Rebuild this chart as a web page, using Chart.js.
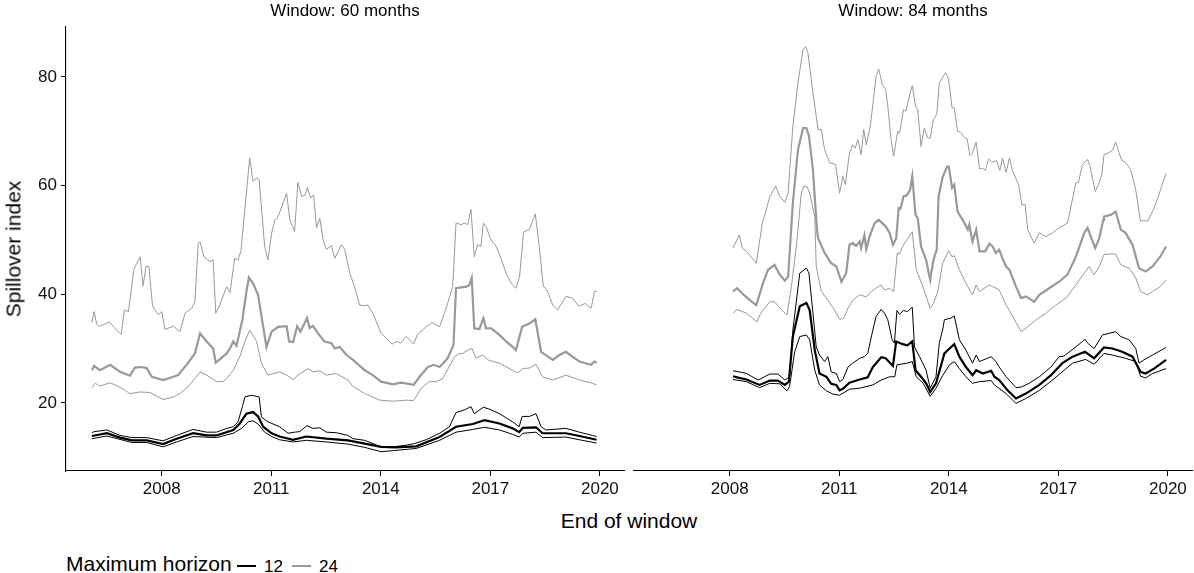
<!DOCTYPE html>
<html>
<head>
<meta charset="utf-8">
<title>Spillover index</title>
<script src="https://cdn.jsdelivr.net/npm/chart.js@4.4.1/dist/chart.umd.min.js"></script>
<style>
  body { margin: 0; background: #fff; font-family: "Liberation Sans", Arial, sans-serif; }
  #page { position: relative; width: 1194px; height: 573px; overflow: hidden; background: #fff; }
  #page canvas { position: absolute; top: 0; }
  .txt { position: absolute; white-space: nowrap; color: #000; line-height: 1; }
  .mid { transform: translate(-50%, -50%); }
  .key { position: absolute; height: 1.5px; width: 19px; }
</style>
</head>
<body>
<div id="page">
  <canvas id="panel60" width="628" height="505" style="left:0"></canvas>
  <canvas id="panel84" width="566" height="505" style="left:628px"></canvas>

  <div class="txt mid" style="left:345px; top:10px; font-size:17px;">Window: 60 months</div>
  <div class="txt mid" style="left:913px; top:10px; font-size:17px;">Window: 84 months</div>
  <div class="txt mid" style="left:13px; top:249px; font-size:21px; transform: translate(-50%, -50%) rotate(-90deg);">Spillover index</div>
  <div class="txt mid" style="left:629px; top:520px; font-size:21px;">End of window</div>

  <div class="txt" style="left:66px; top:553px; font-size:21px;">Maximum horizon</div>
  <div class="key" style="left:237px; top:565px; background:#000;"></div>
  <div class="txt" id="lab12" style="left:264px; top:558px; font-size:17px;"></div>
  <div class="key" style="left:292px; top:565px; background:#999;"></div>
  <div class="txt" id="lab24" style="left:319px; top:558px; font-size:17px;"></div>
</div>

<script>
// axis setup
const tickYears = [2008, 2011, 2014, 2017, 2020];
const tickIndex = [20, 40, 60, 80];
const xRange = [2005.38, 2020.66];
const yRange = [7.45, 89.2];
const horizons = ['12', '24'];

// 60-month window, horizon 24: upper / median / lower  [year, index]
const w60h24Upper = [[2006.09,34.8],[2006.15,36.8],[2006.22,34.5],[2006.31,34.1],[2006.57,34.9],[2006.68,34.0],[2006.89,32.6],[2006.98,37.1],[2007.09,36.8],[2007.24,44.6],[2007.41,46.9],[2007.49,41.5],[2007.57,45.1],[2007.65,45.1],[2007.75,37.8],[2007.91,36.2],[2008.00,36.8],[2008.09,33.5],[2008.32,34.1],[2008.50,33.1],[2008.64,36.5],[2008.82,37.4],[2008.91,38.6],[2009.00,49.4],[2009.05,49.7],[2009.16,46.9],[2009.32,46.0],[2009.41,46.3],[2009.48,36.5],[2009.59,38.0],[2009.78,41.4],[2009.87,40.3],[2010.00,46.6],[2010.09,46.3],[2010.17,47.9],[2010.41,65.1],[2010.50,60.8],[2010.60,61.4],[2010.67,61.1],[2010.82,48.8],[2010.91,46.3],[2011.01,51.2],[2011.10,53.7],[2011.19,54.3],[2011.42,58.6],[2011.51,53.7],[2011.64,51.5],[2011.73,60.6],[2011.83,58.0],[2011.92,58.2],[2011.99,59.6],[2012.08,57.7],[2012.16,58.3],[2012.24,52.2],[2012.33,54.0],[2012.42,50.0],[2012.51,48.3],[2012.65,48.9],[2012.74,46.6],[2012.92,49.1],[2013.01,48.3],[2013.15,43.9],[2013.28,41.4],[2013.42,38.0],[2013.56,37.9],[2013.65,38.0],[2013.78,36.5],[2014.01,32.8],[2014.10,32.2],[2014.31,30.8],[2014.42,31.3],[2014.55,31.0],[2014.70,32.2],[2014.90,30.8],[2015.00,32.5],[2015.24,34.0],[2015.41,34.8],[2015.61,34.0],[2015.79,37.4],[2015.97,41.4],[2016.06,53.1],[2016.20,52.8],[2016.29,53.1],[2016.38,52.8],[2016.47,55.6],[2016.56,46.9],[2016.65,49.1],[2016.74,48.8],[2016.81,53.1],[2016.88,52.5],[2017.02,50.0],[2017.16,48.8],[2017.29,46.6],[2017.43,43.9],[2017.57,42.0],[2017.70,41.1],[2017.80,43.2],[2017.91,51.5],[2018.07,51.9],[2018.23,54.8],[2018.34,48.8],[2018.45,41.5],[2018.55,40.8],[2018.71,38.0],[2018.84,37.1],[2019.07,39.6],[2019.25,39.3],[2019.42,37.8],[2019.60,38.3],[2019.76,37.4],[2019.85,40.5],[2019.91,40.5]];
const w60h24Median = [[2006.09,26.0],[2006.15,26.8],[2006.31,26.0],[2006.59,27.0],[2006.86,25.7],[2007.13,25.0],[2007.27,26.5],[2007.45,26.6],[2007.59,26.4],[2007.73,24.8],[2008.04,24.2],[2008.32,24.8],[2008.45,25.1],[2008.68,27.0],[2008.91,29.1],[2009.05,32.8],[2009.16,31.9],[2009.27,31.0],[2009.41,30.0],[2009.48,27.4],[2009.59,28.0],[2009.78,29.1],[2009.87,30.0],[2009.96,31.3],[2010.05,30.5],[2010.21,35.3],[2010.32,40.5],[2010.39,43.1],[2010.50,42.0],[2010.64,39.9],[2010.78,34.0],[2010.87,30.3],[2011.01,33.1],[2011.19,34.0],[2011.42,34.1],[2011.49,31.3],[2011.60,31.2],[2011.71,34.1],[2011.80,33.1],[2011.98,35.6],[2012.05,33.8],[2012.14,34.2],[2012.28,32.8],[2012.46,31.3],[2012.65,31.0],[2012.74,30.0],[2012.87,30.3],[2013.06,28.8],[2013.24,27.9],[2013.56,26.0],[2013.78,25.1],[2014.01,23.9],[2014.33,23.4],[2014.56,23.7],[2014.90,23.3],[2015.06,24.8],[2015.29,26.6],[2015.45,27.0],[2015.61,26.6],[2015.83,28.2],[2015.99,30.6],[2016.06,41.1],[2016.34,41.4],[2016.42,41.6],[2016.49,43.0],[2016.56,33.7],[2016.70,33.6],[2016.81,35.6],[2016.88,33.7],[2017.02,33.7],[2017.25,32.5],[2017.43,31.3],[2017.61,30.3],[2017.70,29.7],[2017.87,34.0],[2018.07,34.6],[2018.23,35.4],[2018.39,29.4],[2018.52,28.8],[2018.71,27.9],[2018.89,28.8],[2019.07,29.4],[2019.25,28.5],[2019.44,27.6],[2019.60,27.3],[2019.76,27.0],[2019.85,27.6],[2019.91,27.4]];
const w60h24Lower = [[2006.09,22.8],[2006.18,23.6],[2006.31,23.1],[2006.59,23.7],[2006.91,22.7],[2007.13,21.7],[2007.41,22.0],[2007.68,21.9],[2008.04,20.6],[2008.32,21.1],[2008.50,21.7],[2008.77,23.3],[2009.05,25.7],[2009.23,25.1],[2009.50,23.9],[2009.68,23.9],[2009.78,24.5],[2009.96,26.0],[2010.14,28.5],[2010.28,31.3],[2010.41,33.4],[2010.60,31.3],[2010.73,27.3],[2010.91,25.1],[2011.23,25.7],[2011.42,25.1],[2011.60,24.3],[2011.73,25.1],[2012.01,26.3],[2012.15,25.7],[2012.33,25.9],[2012.51,25.1],[2012.78,25.4],[2013.10,24.2],[2013.24,23.0],[2013.56,21.7],[2013.97,20.5],[2014.33,20.3],[2014.70,20.5],[2014.90,20.4],[2015.11,22.7],[2015.33,23.9],[2015.52,23.9],[2015.70,24.5],[2016.02,28.5],[2016.15,29.1],[2016.25,29.1],[2016.38,29.7],[2016.50,30.0],[2016.61,28.2],[2016.79,28.8],[2016.93,27.9],[2017.25,27.3],[2017.61,26.0],[2017.75,25.5],[2017.89,26.3],[2018.07,26.4],[2018.25,27.1],[2018.43,24.8],[2018.71,24.2],[2019.07,25.1],[2019.44,24.2],[2019.80,23.6],[2019.91,23.3]];

// 60-month window, horizon 12
const w60h12Upper = [[2006.09,14.5],[2006.15,14.7],[2006.50,15.0],[2006.86,14.0],[2007.18,13.6],[2007.59,13.6],[2008.04,13.0],[2008.41,14.0],[2008.86,15.1],[2009.23,14.6],[2009.50,14.6],[2009.78,15.3],[2009.96,15.6],[2010.09,16.5],[2010.21,19.3],[2010.28,21.1],[2010.46,21.4],[2010.67,21.1],[2010.73,17.4],[2010.91,16.5],[2011.23,15.6],[2011.46,14.4],[2011.64,14.6],[2011.78,14.7],[2011.98,15.8],[2012.14,15.3],[2012.33,15.4],[2012.51,14.6],[2012.78,14.5],[2013.10,14.0],[2013.24,13.4],[2013.56,13.1],[2014.01,11.9],[2014.33,11.9],[2014.70,12.2],[2014.92,12.5],[2015.24,13.2],[2015.61,14.4],[2015.88,15.6],[2016.06,18.2],[2016.29,18.7],[2016.47,19.3],[2016.56,18.0],[2016.81,19.2],[2016.99,18.8],[2017.25,18.0],[2017.61,16.5],[2017.79,15.6],[2017.87,17.5],[2018.07,17.5],[2018.25,18.0],[2018.39,15.6],[2018.52,15.0],[2019.07,15.3],[2019.44,14.6],[2019.80,14.0],[2019.91,13.8]];
const w60h12Median = [[2006.09,13.9],[2006.50,14.4],[2006.86,13.6],[2007.18,13.1],[2007.59,13.1],[2008.04,12.4],[2008.41,13.4],[2008.86,14.4],[2009.23,14.0],[2009.50,14.0],[2009.96,15.0],[2010.14,16.2],[2010.32,18.0],[2010.50,18.3],[2010.64,17.5],[2010.78,15.6],[2011.01,14.4],[2011.23,13.8],[2011.60,13.2],[2011.96,13.8],[2012.51,13.4],[2013.10,13.1],[2013.56,12.5],[2014.01,11.9],[2014.40,11.8],[2014.97,12.0],[2015.61,13.7],[2016.06,15.6],[2016.52,16.1],[2016.84,16.8],[2017.25,16.2],[2017.61,15.3],[2017.79,14.6],[2017.89,15.4],[2018.25,15.5],[2018.43,14.4],[2019.07,14.4],[2019.44,13.9],[2019.91,13.2]];
const w60h12Lower = [[2006.09,13.4],[2006.50,13.9],[2007.18,12.7],[2007.59,12.7],[2008.04,11.9],[2008.41,12.8],[2008.86,13.8],[2009.50,13.6],[2009.96,14.4],[2010.19,15.3],[2010.37,16.5],[2010.50,16.7],[2010.64,16.1],[2010.82,14.6],[2011.01,13.8],[2011.23,13.2],[2011.60,12.8],[2011.96,13.1],[2012.51,12.8],[2013.10,12.4],[2013.56,11.8],[2014.01,11.0],[2014.33,11.2],[2014.97,11.6],[2015.61,13.1],[2016.06,14.6],[2016.52,15.1],[2016.84,15.5],[2017.25,15.0],[2017.61,14.2],[2017.79,13.7],[2017.89,14.4],[2018.25,14.6],[2018.43,13.6],[2019.07,13.7],[2019.44,13.2],[2019.91,12.6]];

// 84-month window, horizon 24
const w84h24Upper = [[2008.09,48.5],[2008.26,50.9],[2008.35,48.5],[2008.46,47.9],[2008.73,45.7],[2008.90,53.4],[2008.95,54.3],[2009.10,58.0],[2009.26,59.9],[2009.37,58.0],[2009.51,56.9],[2009.60,58.6],[2009.73,70.9],[2009.87,78.9],[2010.01,85.1],[2010.08,85.6],[2010.14,84.5],[2010.28,77.1],[2010.42,70.3],[2010.51,70.3],[2010.60,66.6],[2010.74,64.2],[2010.90,63.9],[2011.01,58.6],[2011.10,61.7],[2011.17,60.2],[2011.28,66.0],[2011.37,67.5],[2011.44,66.9],[2011.51,68.5],[2011.60,65.7],[2011.67,70.3],[2011.74,67.5],[2011.85,70.9],[2012.01,80.1],[2012.08,81.5],[2012.18,78.6],[2012.27,77.7],[2012.33,74.6],[2012.42,68.5],[2012.49,65.4],[2012.60,70.0],[2012.65,69.6],[2012.76,74.0],[2012.83,73.7],[2012.94,77.1],[2013.00,78.4],[2013.09,74.6],[2013.15,74.0],[2013.24,67.2],[2013.33,70.6],[2013.42,68.8],[2013.49,68.7],[2013.58,72.2],[2013.67,73.1],[2013.74,78.9],[2013.91,80.8],[2013.97,80.1],[2014.02,78.3],[2014.09,74.3],[2014.15,74.3],[2014.24,70.0],[2014.33,69.8],[2014.43,68.8],[2014.50,68.7],[2014.58,65.5],[2014.65,66.0],[2014.75,68.0],[2014.84,63.1],[2014.93,63.2],[2015.00,62.8],[2015.09,64.9],[2015.18,64.3],[2015.31,64.6],[2015.40,62.8],[2015.47,65.1],[2015.57,62.4],[2015.66,65.1],[2015.75,62.6],[2015.91,60.2],[2016.00,56.5],[2016.09,56.5],[2016.16,51.9],[2016.34,49.4],[2016.48,51.3],[2016.66,50.6],[2016.84,51.3],[2017.02,52.2],[2017.25,53.1],[2017.48,60.5],[2017.55,60.6],[2017.66,63.9],[2017.80,64.8],[2017.87,63.5],[2018.01,58.9],[2018.10,60.2],[2018.19,62.0],[2018.25,65.7],[2018.39,66.1],[2018.48,66.5],[2018.57,68.0],[2018.66,66.1],[2018.74,64.6],[2018.84,64.3],[2018.98,62.9],[2019.12,59.2],[2019.25,53.4],[2019.34,53.6],[2019.44,53.4],[2019.58,55.2],[2019.71,57.4],[2019.83,59.9],[2019.95,62.3]];
const w84h24Median = [[2008.09,40.5],[2008.20,41.1],[2008.35,40.1],[2008.55,38.9],[2008.73,38.0],[2008.91,42.0],[2009.05,44.5],[2009.23,45.4],[2009.37,43.6],[2009.51,42.5],[2009.60,43.2],[2009.73,56.8],[2009.87,66.6],[2010.01,70.6],[2010.10,70.6],[2010.17,69.2],[2010.28,62.9],[2010.39,51.9],[2010.42,50.3],[2010.60,47.6],[2010.78,45.7],[2010.92,45.1],[2011.06,42.3],[2011.12,43.0],[2011.19,43.9],[2011.28,49.1],[2011.37,49.4],[2011.46,48.9],[2011.56,49.7],[2011.60,48.5],[2011.69,50.9],[2011.74,48.3],[2011.83,50.6],[2011.97,53.1],[2012.08,53.7],[2012.27,52.5],[2012.38,51.3],[2012.47,49.1],[2012.56,50.3],[2012.63,55.9],[2012.68,55.8],[2012.76,58.0],[2012.85,58.2],[2012.94,59.2],[2013.00,61.7],[2013.09,54.6],[2013.15,54.0],[2013.24,48.8],[2013.38,46.3],[2013.49,42.6],[2013.58,46.3],[2013.67,48.2],[2013.72,58.0],[2013.83,61.5],[2013.95,63.5],[2014.00,63.5],[2014.09,59.6],[2014.15,60.2],[2014.24,55.2],[2014.38,53.7],[2014.52,51.9],[2014.56,52.8],[2014.65,49.7],[2014.75,51.9],[2014.84,47.9],[2015.00,47.9],[2015.11,49.3],[2015.20,48.8],[2015.29,47.6],[2015.38,48.2],[2015.47,46.6],[2015.57,45.1],[2015.66,44.5],[2015.84,41.4],[2015.98,39.3],[2016.11,39.6],[2016.34,38.6],[2016.48,39.9],[2016.75,41.1],[2017.02,42.3],[2017.25,43.6],[2017.48,46.9],[2017.71,51.3],[2017.80,52.2],[2017.89,50.6],[2018.01,48.5],[2018.12,50.3],[2018.23,53.7],[2018.25,54.3],[2018.43,54.6],[2018.57,55.2],[2018.66,53.1],[2018.71,51.9],[2018.84,51.3],[2019.03,49.1],[2019.21,44.8],[2019.39,44.2],[2019.58,45.1],[2019.79,46.9],[2019.95,48.8]];
const w84h24Lower = [[2008.09,36.5],[2008.20,37.2],[2008.46,36.5],[2008.75,34.9],[2008.85,36.5],[2009.10,38.6],[2009.23,38.6],[2009.42,37.1],[2009.57,36.2],[2009.69,41.4],[2009.83,49.1],[2009.87,51.9],[2009.96,58.6],[2010.03,59.9],[2010.12,59.8],[2010.19,58.6],[2010.33,54.3],[2010.37,45.1],[2010.51,40.5],[2010.69,38.9],[2010.87,37.1],[2011.01,35.4],[2011.12,35.5],[2011.24,37.4],[2011.37,38.9],[2011.56,39.9],[2011.74,39.5],[2011.88,40.5],[2012.01,41.1],[2012.15,41.7],[2012.24,40.8],[2012.38,41.1],[2012.49,40.5],[2012.59,47.6],[2012.65,47.4],[2012.76,49.1],[2012.88,50.3],[2013.00,51.5],[2013.11,44.5],[2013.24,42.3],[2013.38,39.6],[2013.49,37.4],[2013.58,38.3],[2013.70,40.5],[2013.83,45.7],[2014.00,48.0],[2014.09,46.9],[2014.15,47.1],[2014.29,44.5],[2014.47,42.0],[2014.65,39.9],[2014.75,41.7],[2014.84,40.5],[2015.11,41.7],[2015.20,41.4],[2015.38,40.8],[2015.57,38.0],[2015.75,35.9],[2015.98,33.1],[2016.11,33.7],[2016.39,35.3],[2016.66,36.5],[2016.93,38.0],[2017.21,39.3],[2017.48,41.7],[2017.71,43.9],[2017.84,45.1],[2017.98,43.6],[2018.12,45.1],[2018.25,47.3],[2018.39,47.4],[2018.57,47.4],[2018.71,45.4],[2018.94,44.8],[2019.12,43.0],[2019.25,40.5],[2019.44,39.9],[2019.58,40.5],[2019.79,41.4],[2019.95,42.6]];

// 84-month window, horizon 12
const w84h12Upper = [[2008.09,25.9],[2008.26,25.7],[2008.46,25.4],[2008.78,24.2],[2009.10,25.3],[2009.32,25.3],[2009.51,24.2],[2009.64,24.8],[2009.73,33.4],[2009.92,43.9],[2010.10,44.8],[2010.17,43.9],[2010.28,36.5],[2010.37,30.3],[2010.46,28.8],[2010.60,27.6],[2010.69,28.5],[2010.78,25.7],[2010.92,25.4],[2011.01,23.9],[2011.10,24.3],[2011.24,26.6],[2011.37,27.3],[2011.56,28.2],[2011.69,28.5],[2011.78,29.1],[2011.92,33.4],[2012.01,35.9],[2012.15,37.2],[2012.24,36.5],[2012.33,35.3],[2012.45,31.6],[2012.51,31.0],[2012.58,37.0],[2012.65,36.3],[2012.76,37.0],[2012.87,36.8],[2013.00,37.6],[2013.06,30.3],[2013.20,28.5],[2013.38,26.0],[2013.49,22.7],[2013.65,24.8],[2013.74,31.0],[2013.83,33.4],[2013.88,35.3],[2014.06,35.6],[2014.15,36.0],[2014.29,31.6],[2014.47,29.7],[2014.65,27.3],[2014.75,28.8],[2014.84,27.6],[2015.16,28.5],[2015.29,27.6],[2015.38,26.6],[2015.57,24.8],[2015.84,22.8],[2015.98,22.9],[2016.20,23.6],[2016.48,24.8],[2016.80,26.6],[2017.02,28.5],[2017.15,28.6],[2017.48,30.3],[2017.73,31.7],[2017.80,31.0],[2017.98,30.0],[2018.21,32.5],[2018.39,32.8],[2018.57,33.1],[2018.71,32.2],[2018.94,31.6],[2019.12,30.0],[2019.21,27.3],[2019.34,27.9],[2019.58,28.8],[2019.95,30.2]];
const w84h12Median = [[2008.09,24.9],[2008.26,24.6],[2008.46,24.3],[2008.82,23.3],[2009.10,24.1],[2009.32,24.1],[2009.51,23.3],[2009.62,23.9],[2009.73,32.2],[2009.92,37.8],[2010.10,38.4],[2010.19,37.1],[2010.33,29.7],[2010.46,25.4],[2010.65,24.8],[2010.78,23.5],[2010.92,23.3],[2011.01,22.3],[2011.10,22.6],[2011.28,23.7],[2011.56,24.3],[2011.78,24.7],[2011.92,26.6],[2012.15,28.4],[2012.27,28.2],[2012.47,26.8],[2012.56,31.3],[2012.74,30.8],[2012.87,30.6],[2013.00,31.3],[2013.09,26.0],[2013.24,24.8],[2013.38,23.6],[2013.49,22.0],[2013.65,23.6],[2013.83,27.9],[2013.88,29.1],[2014.02,30.0],[2014.15,30.8],[2014.29,28.5],[2014.47,26.6],[2014.65,25.1],[2014.75,26.0],[2014.93,25.4],[2015.16,25.9],[2015.25,24.8],[2015.38,24.2],[2015.61,22.3],[2015.84,20.8],[2016.11,21.7],[2016.48,23.3],[2016.80,25.1],[2017.11,27.3],[2017.39,28.5],[2017.73,29.4],[2017.98,28.2],[2018.25,30.2],[2018.48,30.0],[2018.75,29.4],[2019.03,28.5],[2019.25,25.7],[2019.39,25.4],[2019.62,26.3],[2019.95,27.9]];
const w84h12Lower = [[2008.09,24.3],[2008.46,23.9],[2008.82,22.8],[2009.10,23.6],[2009.37,23.5],[2009.57,22.2],[2009.64,23.0],[2009.78,29.4],[2009.92,32.2],[2010.10,32.5],[2010.19,31.6],[2010.33,26.0],[2010.46,23.3],[2010.65,22.2],[2010.83,21.6],[2011.01,21.4],[2011.28,22.5],[2011.56,22.7],[2011.92,23.3],[2012.15,24.2],[2012.38,24.8],[2012.52,24.8],[2012.58,27.0],[2012.85,27.3],[2013.00,27.6],[2013.11,24.8],[2013.30,23.6],[2013.49,21.2],[2013.65,22.7],[2013.83,25.0],[2014.02,27.0],[2014.15,27.6],[2014.29,26.3],[2014.47,24.8],[2014.65,23.6],[2014.84,23.9],[2015.16,24.1],[2015.25,23.3],[2015.57,21.7],[2015.84,19.9],[2016.11,20.8],[2016.48,22.3],[2016.84,24.2],[2017.21,26.3],[2017.39,27.3],[2017.75,28.0],[2017.98,27.1],[2018.25,29.1],[2018.48,28.8],[2018.84,28.2],[2019.12,27.6],[2019.25,24.9],[2019.39,24.6],[2019.58,25.4],[2019.95,26.3]];

const fontFamily = '"Liberation Sans", Arial, sans-serif';
const black = '#000000';
const grey = '#999999';

function toPoints(pairs) {
    return pairs.map(([x, y]) => ({ x: x, y: y }));
}

function line(pairs, color, width) {
    return {
        data: toPoints(pairs),
        borderColor: color,
        borderWidth: width,
        pointRadius: 0,
        tension: 0,
        fill: false
    };
}

// first datasets are painted last, so black sits on top of grey
function panelDatasets(h12, h24) {
    return [
        line(h12[1], black, 2.2),
        line(h12[0], black, 1),
        line(h12[2], black, 1),
        line(h24[1], grey, 2.2),
        line(h24[0], grey, 1),
        line(h24[2], grey, 1)
    ];
}

function panelOptions(showY) {
    return {
        responsive: false,
        animation: false,
        devicePixelRatio: 1,
        layout: { padding: showY ? { top: 27, right: 4, left: 0, bottom: 0 } : { top: 27, right: 2, left: 6, bottom: 0 } },
        plugins: { legend: { display: false }, tooltip: { enabled: false } },
        scales: {
            x: {
                type: 'linear',
                min: xRange[0],
                max: xRange[1],
                afterBuildTicks: axis => { axis.ticks = tickYears.map(v => ({ value: v })); },
                afterFit: axis => { axis.height = 34; },
                grid: { drawOnChartArea: false, drawTicks: true, tickLength: 5, color: black, lineWidth: 1 },
                border: { display: true, color: black, width: 1.1 },
                ticks: {
                    color: '#111',
                    font: { family: fontFamily, size: 17 },
                    padding: 3,
                    maxRotation: 0,
                    autoSkip: false,
                    callback: v => String(v)
                }
            },
            y: {
                type: 'linear',
                display: showY,
                min: yRange[0],
                max: yRange[1],
                afterBuildTicks: axis => { axis.ticks = tickIndex.map(v => ({ value: v })); },
                // the right panel shares the scale but has no axis of its own
                afterFit: axis => { axis.width = showY ? 66 : 0; },
                grid: { drawOnChartArea: false, drawTicks: true, tickLength: 5, color: black, lineWidth: 1 },
                border: { display: true, color: black, width: 1.1 },
                ticks: {
                    color: '#111',
                    font: { family: fontFamily, size: 17 },
                    padding: 4,
                    autoSkip: false,
                    callback: v => String(v)
                }
            }
        }
    };
}

document.getElementById('lab12').textContent = horizons[0];
document.getElementById('lab24').textContent = horizons[1];

new Chart(document.getElementById('panel60'), {
    type: 'line',
    data: { datasets: panelDatasets([w60h12Upper, w60h12Median, w60h12Lower], [w60h24Upper, w60h24Median, w60h24Lower]) },
    options: panelOptions(true)
});

new Chart(document.getElementById('panel84'), {
    type: 'line',
    data: { datasets: panelDatasets([w84h12Upper, w84h12Median, w84h12Lower], [w84h24Upper, w84h24Median, w84h24Lower]) },
    options: panelOptions(false)
});
</script>
</body>
</html>
